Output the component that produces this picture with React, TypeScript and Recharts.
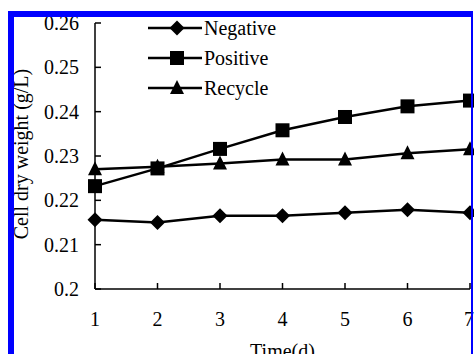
import React from "react";
import { LineChart, Line, XAxis, YAxis, Legend } from "recharts";

const days = [1, 2, 3, 4, 5, 6, 7];
const negative = [0.2156, 0.215, 0.2165, 0.2165, 0.2172, 0.2179, 0.2172];
const positive = [0.2232, 0.2272, 0.2316, 0.2358, 0.2388, 0.2412, 0.2425];
const recycle = [0.227, 0.2276, 0.2283, 0.2292, 0.2292, 0.2306, 0.2315];
const yTicks = [0.2, 0.21, 0.22, 0.23, 0.24, 0.25, 0.26];

const data = days.map((d, i) => ({
    day: d,
    Negative: negative[i],
    Positive: positive[i],
    Recycle: recycle[i],
}));

const FONT = "'Liberation Serif', 'Times New Roman', serif";

type Shape = "diamond" | "square" | "triangle";

const marker = (shape: Shape, cx: number, cy: number, key?: string) => {
    if (shape === "diamond") {
        const r = 7.5;
        return <path key={key} d={`M${cx},${cy - r}L${cx + r},${cy}L${cx},${cy + r}L${cx - r},${cy}Z`} fill="#000" />;
    }
    if (shape === "square") {
        const s = 7;
        return <rect key={key} x={cx - s} y={cy - s} width={s * 2} height={s * 2} fill="#000" />;
    }
    const h = 8;
    return <path key={key} d={`M${cx},${cy - h}L${cx + 7},${cy + 6}L${cx - 7},${cy + 6}Z`} fill="#000" />;
};

const dotFor = (shape: Shape) => (props: any) =>
    marker(shape, props.cx, props.cy, `${shape}-${props.index}`);

const series: { key: string; shape: Shape }[] = [
    { key: "Negative", shape: "diamond" },
    { key: "Positive", shape: "square" },
    { key: "Recycle", shape: "triangle" },
];

const LegendBox = () => (
    <div style={{ fontFamily: FONT, fontSize: 20, color: "#000" }}>
        {series.map((s) => (
            <div key={s.key} style={{ display: "flex", alignItems: "center", height: 30 }}>
                <svg width={56} height={30}>
                    <line x1={0} y1={15} x2={54} y2={15} stroke="#000" strokeWidth={2.5} />
                    {marker(s.shape, 29, 15)}
                </svg>
                <span style={{ lineHeight: "30px" }}>{s.key}</span>
            </div>
        ))}
    </div>
);

export default function App() {
    return (
        <div style={{ position: "absolute", left: 0, top: 0, width: 474, height: 354, background: "#fff", overflow: "hidden" }}>
            <LineChart
                width={474}
                height={354}
                data={data}
                margin={{ top: 23, right: 4, left: 0, bottom: 0 }}
                style={{ fontFamily: FONT }}
            >
                <XAxis
                    dataKey="day"
                    type="number"
                    domain={[1, 7]}
                    ticks={days}
                    height={65}
                    tickSize={-6}
                    tickMargin={29}
                    axisLine={{ stroke: "#000", strokeWidth: 1.5 }}
                    tickLine={{ stroke: "#000", strokeWidth: 1.5 }}
                    tick={{ fill: "#000", fontSize: 20, fontFamily: FONT }}
                    label={({ viewBox }: any) => (
                        <text
                            x={viewBox.x + viewBox.width / 2}
                            y={viewBox.y + 69}
                            textAnchor="middle"
                            fontSize={20}
                            fontFamily={FONT}
                            fill="#000"
                        >
                            Time(d)
                        </text>
                    )}
                />
                <YAxis
                    type="number"
                    domain={[0.2, 0.26]}
                    ticks={yTicks}
                    width={95}
                    tickSize={-6}
                    tickMargin={22}
                    tickFormatter={(v: number) => String(Number(v.toFixed(2)))}
                    axisLine={{ stroke: "#000", strokeWidth: 1.5 }}
                    tickLine={{ stroke: "#000", strokeWidth: 1.5 }}
                    tick={{ fill: "#000", fontSize: 20, fontFamily: FONT }}
                    label={({ viewBox }: any) => {
                        const cx = viewBox.x + 21;
                        const cy = viewBox.y + viewBox.height / 2 - 2;
                        return (
                            <text
                                x={cx}
                                y={cy}
                                transform={`rotate(-90 ${cx} ${cy})`}
                                textAnchor="middle"
                                dominantBaseline="central"
                                fontSize={20}
                                fontFamily={FONT}
                                fill="#000"
                            >
                                Cell dry weight (g/L)
                            </text>
                        );
                    }}
                />
                {/* centred alignment keeps the legend from shrinking the plot area */}
                <Legend
                    layout="vertical"
                    verticalAlign="middle"
                    align="center"
                    content={() => <LegendBox />}
                    wrapperStyle={{ top: 13, left: 148, width: 160 }}
                />
                {series.map((s) => (
                    <Line
                        key={s.key}
                        dataKey={s.key}
                        stroke="#000"
                        strokeWidth={2.5}
                        dot={dotFor(s.shape)}
                        activeDot={false}
                        isAnimationActive={false}
                    />
                ))}
            </LineChart>
            {/* frame */}
            <div
                style={{
                    position: "absolute",
                    left: 8,
                    top: 11,
                    width: 465,
                    height: 360,
                    boxSizing: "border-box",
                    borderTop: "6px solid #0000ff",
                    borderLeft: "6px solid #0000ff",
                    borderRight: "2px solid #0000ff",
                    pointerEvents: "none",
                }}
            />
        </div>
    );
}
